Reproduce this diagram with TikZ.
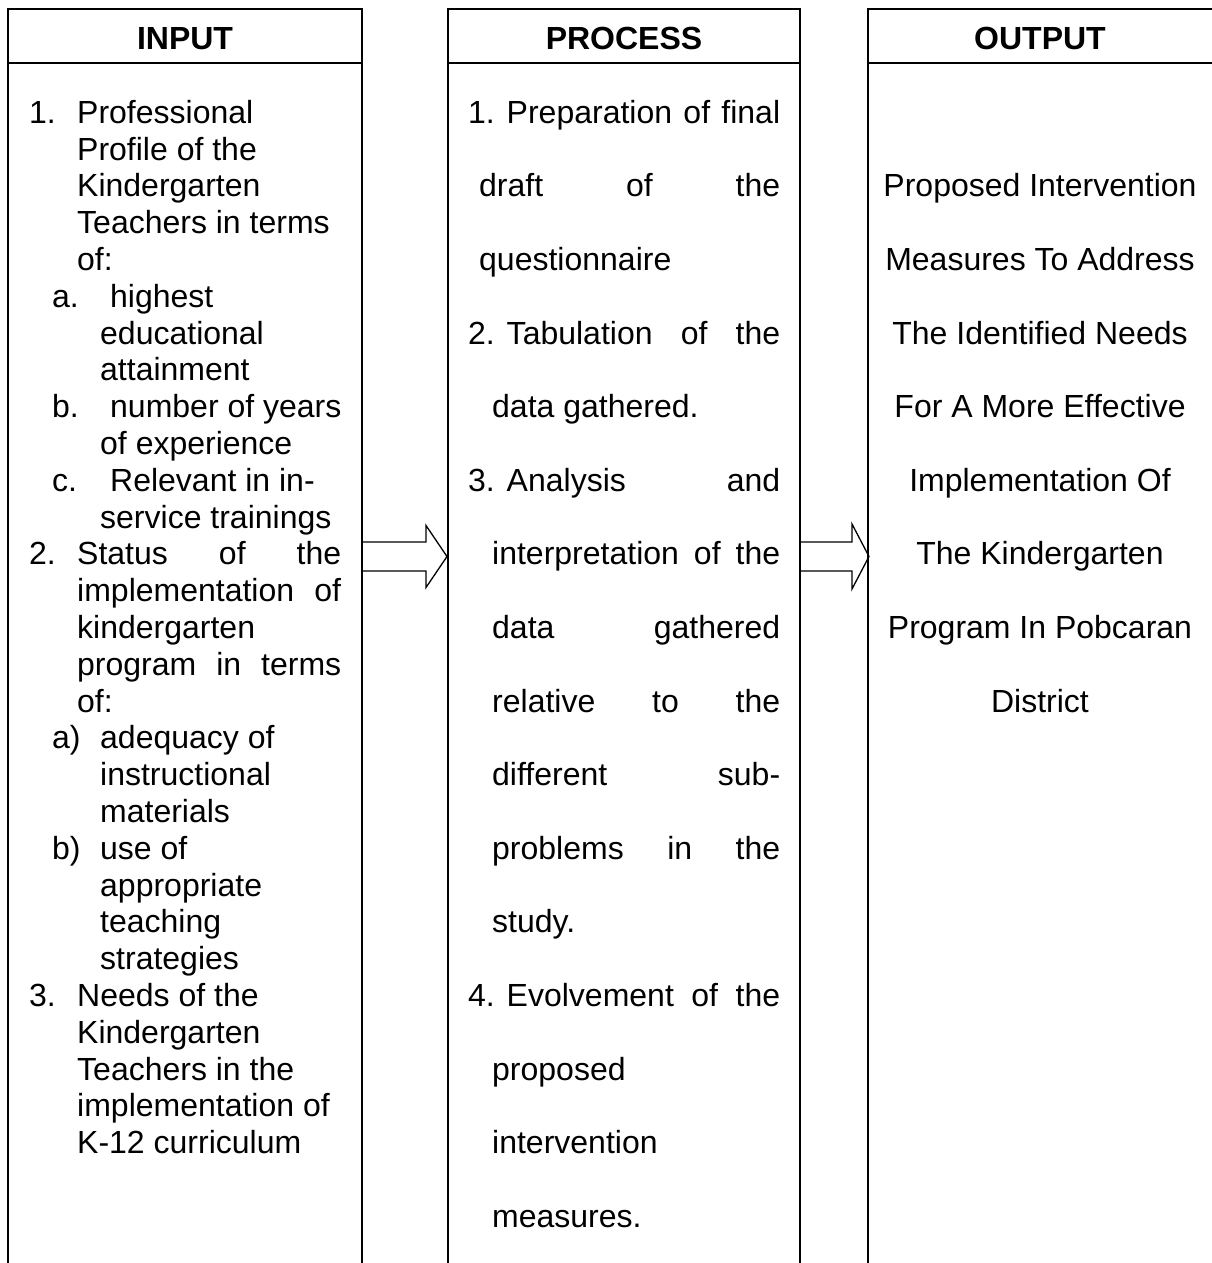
\documentclass[tikz,border=0pt]{standalone}
\usepackage{fontspec}
\setmainfont{Liberation Sans}
\usetikzlibrary{calc}
\begin{document}
\begin{tikzpicture}[x=1pt,y=-1pt,
  boxline/.style={line width=2pt},
  txt/.style={anchor=base west,inner sep=0pt,font=\fontsize{32}{36.8}\selectfont},
  ctr/.style={anchor=base,inner sep=0pt,font=\fontsize{32}{36.8}\selectfont},
  head/.style={anchor=base,inner sep=0pt,font=\fontsize{32}{36.8}\selectfont\bfseries},
  blockarrow/.style={line width=1.3pt,line join=miter}]
\useasboundingbox (0,0) rectangle (1212,1263);

% anchor coordinates for the connectors
\coordinate (inE) at (362,556.5);
\coordinate (prW) at (448,556.5);
\coordinate (prE) at (800,556.5);
\coordinate (outW) at (868,556.5);

% block arrows
\draw[blockarrow] ($(inE)+(0,-14.5)$) -- ($(prW)+(-22,-14.5)$) -- ($(prW)+(-22,-31)$)
  -- ($(prW)+(-1,0)$) -- ($(prW)+(-22,31)$) -- ($(prW)+(-22,14.5)$) -- ($(inE)+(0,14.5)$);
\draw[blockarrow] ($(prE)+(0,-14.5)$) -- ($(outW)+(-16,-14.5)$) -- ($(outW)+(-16,-32.5)$)
  -- ($(outW)+(1,0)$) -- ($(outW)+(-16,32.5)$) -- ($(outW)+(-16,14.5)$) -- ($(prE)+(0,14.5)$);

% boxes (open at the bottom)
\draw[boxline] (8,1263) -- (8,8.7) -- (362,8.7) -- (362,1263);
\draw[boxline] (8,63.5) -- (362,63.5);
\draw[boxline] (448,1263) -- (448,8.7) -- (800,8.7) -- (800,1263);
\draw[boxline] (448,63.5) -- (800,63.5);
\draw[boxline] (868,1263) -- (868,8.7) -- (1212,8.7);
\draw[boxline] (868,63.5) -- (1212,63.5);

% headers
\node[head] (hIn) at (185,49) {INPUT};
\node[head] (hPr) at (624,49) {PROCESS};
\node[head] (hOut) at (1040,49) {OUTPUT};

% INPUT text
\node[txt] (i1n) at (29,123.3) {1.};
\node[txt] (i1a) at (77,123.3) {Professional};
\node[txt] (i1b) at (77,160.1) {Profile of the};
\node[txt] (i1c) at (77,196.9) {Kindergarten};
\node[txt] (i1d) at (77,233.7) {Teachers in terms};
\node[txt] (i1e) at (77,270.5) {of:};
\node[txt] (iaN) at (52,307.3) {a.};
\node[txt] (iaa) at (110,307.3) {highest};
\node[txt] (iab) at (100,344.1) {educational};
\node[txt] (iac) at (100,380.9) {attainment};
\node[txt] (ibN) at (52,417.7) {b.};
\node[txt] (iba) at (110,417.7) {number of years};
\node[txt] (ibb) at (100,454.5) {of experience};
\node[txt] (icN) at (52,491.3) {c.};
\node[txt] (ica) at (110,491.3) {Relevant in in-};
\node[txt] (icb) at (100,528.1) {service trainings};
\node[txt] (i2n) at (29,564.9) {2.};
\node[txt] (i2a) at (77,564.9) {\hbox to 264pt{Status\hfill of\hfill the}};
\node[txt] (i2b) at (77,601.7) {\hbox to 264pt{implementation\hfill of}};
\node[txt] (i2c) at (77,638.5) {kindergarten};
\node[txt] (i2d) at (77,675.3) {\hbox to 264pt{program\hfill in\hfill terms}};
\node[txt] (i2e) at (77,712.1) {of:};
\node[txt] (i2aN) at (52,748.9) {a)};
\node[txt] (i2aa) at (100,748.9) {adequacy of};
\node[txt] (i2ab) at (100,785.7) {instructional};
\node[txt] (i2ac) at (100,822.5) {materials};
\node[txt] (i2bN) at (52,859.3) {b)};
\node[txt] (i2ba) at (100,859.3) {use of};
\node[txt] (i2bb) at (100,896.1) {appropriate};
\node[txt] (i2bc) at (100,932.9) {teaching};
\node[txt] (i2bd) at (100,969.7) {strategies};
\node[txt] (i3n) at (29,1006.5) {3.};
\node[txt] (i3a) at (77,1006.5) {Needs of the};
\node[txt] (i3b) at (77,1043.3) {Kindergarten};
\node[txt] (i3c) at (77,1080.1) {Teachers in the};
\node[txt] (i3d) at (77,1116.9) {implementation of};
\node[txt] (i3e) at (77,1153.7) {K-12 curriculum};

% PROCESS text
\node[txt] (p1a) at (468,123.3) {\hbox to 312pt{1. Preparation\hfill of\hfill final}};
\node[txt] (p1b) at (479,196.9) {\hbox to 301pt{draft\hfill of\hfill the}};
\node[txt] (p1c) at (479,270.5) {questionnaire};
\node[txt] (p2a) at (468,344.1) {\hbox to 312pt{2. Tabulation\hfill of\hfill the}};
\node[txt] (p2b) at (492,417.7) {data gathered.};
\node[txt] (p3a) at (468,491.3) {\hbox to 312pt{3. Analysis\hfill and}};
\node[txt] (p3b) at (492,564.9) {\hbox to 288pt{interpretation\hfill of\hfill the}};
\node[txt] (p3c) at (492,638.5) {\hbox to 288pt{data\hfill gathered}};
\node[txt] (p3d) at (492,712.1) {\hbox to 288pt{relative\hfill to\hfill the}};
\node[txt] (p3e) at (492,785.7) {\hbox to 288pt{different\hfill sub-}};
\node[txt] (p3f) at (492,859.3) {\hbox to 288pt{problems\hfill in\hfill the}};
\node[txt] (p3g) at (492,932.9) {study.};
\node[txt] (p4a) at (468,1006.5) {\hbox to 312pt{4. Evolvement\hfill of\hfill the}};
\node[txt] (p4b) at (492,1080.1) {proposed};
\node[txt] (p4c) at (492,1153.7) {intervention};
\node[txt] (p4d) at (492,1227.3) {measures.};

% OUTPUT text
\node[ctr] (o1) at (1040,196.9) {Proposed Intervention};
\node[ctr] (o2) at (1040,270.5) {Measures To Address};
\node[ctr] (o3) at (1040,344.1) {The Identified Needs};
\node[ctr] (o4) at (1040,417.7) {For A More Effective};
\node[ctr] (o5) at (1040,491.3) {Implementation Of};
\node[ctr] (o6) at (1040,564.9) {The Kindergarten};
\node[ctr] (o7) at (1040,638.5) {Program In Pobcaran};
\node[ctr] (o8) at (1040,712.1) {District};
\end{tikzpicture}
\end{document}
